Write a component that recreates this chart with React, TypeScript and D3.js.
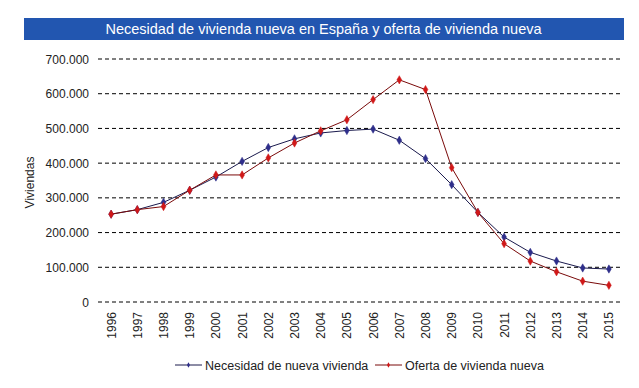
import React from "react";
import * as d3 from "d3";

const years = [
  "1996", "1997", "1998", "1999", "2000", "2001", "2002", "2003", "2004", "2005",
  "2006", "2007", "2008", "2009", "2010", "2011", "2012", "2013", "2014", "2015",
];

// Necesidad de nueva vivienda
const necesidad = [
  253000, 266000, 287000, 322000, 360000, 405000, 445000, 470000, 487000, 494000,
  498000, 466000, 413000, 338000, 258000, 187000, 143000, 118000, 98000, 95000,
];

// Oferta de vivienda nueva
const oferta = [
  253000, 266000, 275000, 322000, 366000, 366000, 415000, 458000, 493000, 525000,
  583000, 640000, 612000, 387000, 258000, 168000, 118000, 87000, 60000, 48000,
];

const yTicks = [0, 100000, 200000, 300000, 400000, 500000, 600000, 700000];

const W = 639;
const H = 388;
const font = "Arial, 'Liberation Sans', sans-serif";

const fmt = (v: number) =>
  v === 0 ? "0" : d3.format(",")(v).replace(/,/g, ".");

const App = () => {
  const left = 98;
  const right = 622;
  const top = 59;
  const bottom = 302;

  const x = d3.scaleBand<string>().domain(years).range([left, right]);
  const y = d3.scaleLinear().domain([0, 700000]).range([bottom, top]);
  const cx = (d: string) => (x(d) as number) + x.bandwidth() / 2;

  const line = d3
    .line<number>()
    .x((_, i) => cx(years[i]))
    .y((d) => y(d));

  const diamond = d3.symbol().type(d3.symbolDiamond).size(20);
  const smallDiamond = d3.symbol().type(d3.symbolDiamond).size(8);

  const series = [
    { name: "Necesidad de nueva vivienda", values: necesidad, stroke: "#1a1a4d", fill: "#2e2e8a", lx: 175 },
    { name: "Oferta de vivienda nueva", values: oferta, stroke: "#7a0a0a", fill: "#d01818", lx: 375 },
  ];

  return (
    <svg
      width={W}
      height={H}
      style={{ position: "absolute", left: 0, top: 0, background: "#fff" }}
      fontFamily={font}
    >
      <rect x={0} y={0} width={W} height={H} fill="#fff" />
      {/* title bar */}
      <rect x={24} y={18} width={600} height={22} fill="#2256b0" />
      <text x={323.5} y={34} textAnchor="middle" fill="#fff" fontSize={14.5}>
        Necesidad de vivienda nueva en España y oferta de vivienda nueva
      </text>

      {/* gridlines and y ticks */}
      {yTicks.map((t) => (
        <g key={t}>
          <line
            x1={left}
            x2={right}
            y1={y(t)}
            y2={y(t)}
            stroke="#000"
            strokeWidth={1}
            strokeDasharray="4,3"
          />
          <text x={89} y={y(t) + 4.5} textAnchor="end" fontSize={12} fill="#222">
            {fmt(t)}
          </text>
        </g>
      ))}

      <text
        transform={`translate(34,${(top + bottom) / 2 + 2}) rotate(-90)`}
        textAnchor="middle"
        fontSize={12}
        fill="#222"
      >
        Viviendas
      </text>

      {/* x labels */}
      {years.map((yr) => (
        <text
          key={yr}
          transform={`translate(${cx(yr) + 4.5},312) rotate(-90)`}
          textAnchor="end"
          fontSize={12}
          fill="#222"
        >
          {yr}
        </text>
      ))}

      {/* series */}
      {series.map((s) => (
        <g key={s.name}>
          <path d={line(s.values) || ""} fill="none" stroke={s.stroke} strokeWidth={1} />
          {s.values.map((v, i) => (
            <path
              key={i}
              d={diamond() || ""}
              transform={`translate(${cx(years[i])},${y(v)})`}
              fill={s.fill}
              stroke={s.fill}
              strokeWidth={0.5}
            />
          ))}
        </g>
      ))}

      {/* legend */}
      {series.map((s) => (
        <g key={s.name}>
          <line x1={s.lx} x2={s.lx + 27} y1={365} y2={365} stroke={s.stroke} strokeWidth={1} />
          <path d={smallDiamond() || ""} transform={`translate(${s.lx + 13.5},365)`} fill={s.fill} />
          <text x={s.lx + 30} y={369.5} fontSize={12.5} fill="#222">
            {s.name}
          </text>
        </g>
      ))}
    </svg>
  );
};

export default App;
